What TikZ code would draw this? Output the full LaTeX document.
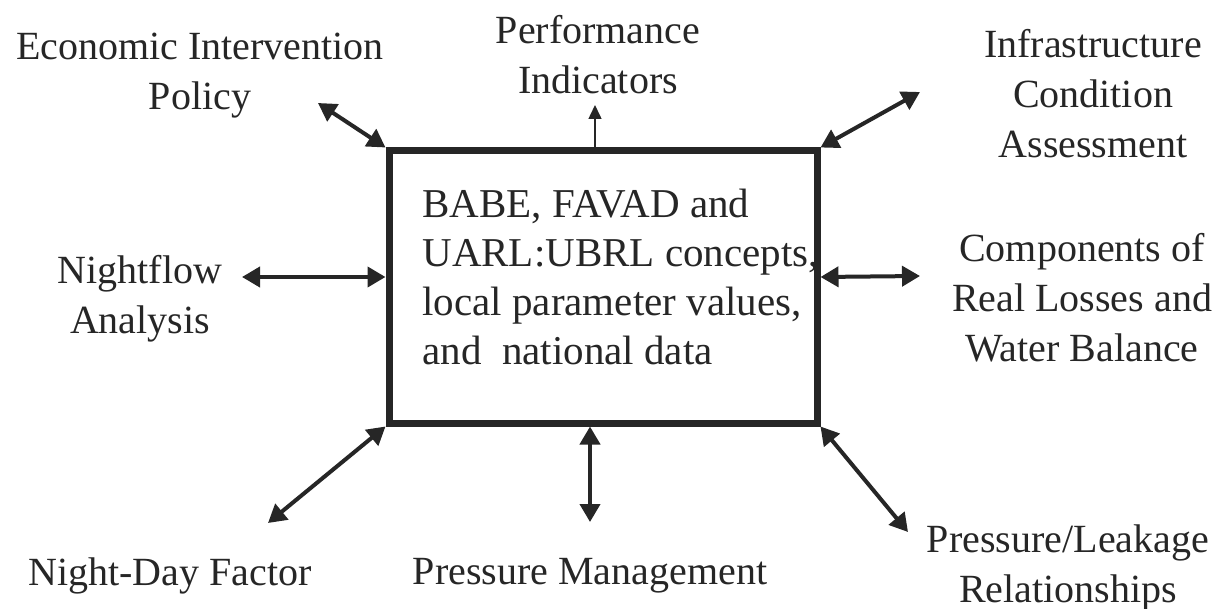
\documentclass[tikz,border=0pt]{standalone}
\usepackage{fontspec}
\setmainfont{Liberation Serif}
\usetikzlibrary{arrows.meta}
\definecolor{ink}{HTML}{262626}

\begin{document}
\begin{tikzpicture}[
  x=0.5pt, y=-0.5pt,
  core/.style={draw=ink, line width=3.5pt, minimum width=214pt, minimum height=136pt, inner sep=0pt},
  txt/.style={text=ink, font=\fontsize{20.5pt}{24.5pt}\selectfont, align=left, inner sep=0pt},
  lbl/.style={text=ink, font=\fontsize{20pt}{25pt}\selectfont, align=center, inner sep=0pt},
  arr/.style={{Triangle[length=9pt,width=10pt]}-{Triangle[length=9pt,width=10pt]}, line width=2pt, draw=ink},
  onearr/.style={-{Triangle[length=7pt,width=6.5pt]}, line width=0.75pt, draw=ink},
]
\useasboundingbox (0,0) rectangle (1225,609);
% central box and its text
\node[core] (core) at (603,287) {};
\node[txt, anchor=west] (concepts) at (422,277) {BABE, FAVAD and\\UARL:UBRL concepts,\\local parameter values,\\and\ \ national data};
% surrounding topics
\node[lbl] (econ) at (200,76) {Economic Intervention\\Policy};
\node[lbl] (perf) at (598,55) {Performance\\Indicators};
\node[lbl] (infra) at (1093,94) {Infrastructure\\Condition\\Assessment};
\node[lbl] (night) at (140,299) {Nightflow\\Analysis};
\node[lbl] (comp) at (1082,298) {Components of\\Real Losses and\\Water Balance};
\node[lbl] (ndf) at (170,576) {Night-Day Factor};
\node[lbl] (pman) at (590,576) {Pressure Management};
\node[lbl] (pleak) at (1068,568) {Pressure/Leakage\\Relationships};
% free arrow ends
\coordinate (econ-end) at (318,103);
\coordinate (perf-end) at (595,105);
\coordinate (infra-end) at (920,92);
\coordinate (night-end) at (242,277);
\coordinate (comp-end) at (920,276);
\coordinate (ndf-end) at (268,523);
\coordinate (pman-end) at (590,522);
\coordinate (pleak-end) at (908,532);
% connectors
\draw[arr] (core.north west) -- (econ-end);
\draw[onearr] ([xshift=-4pt]core.north) -- (perf-end);
\draw[arr] (core.north east) -- (infra-end);
\draw[arr] ([yshift=5pt]core.west) -- (night-end);
\draw[arr] ([yshift=5pt]core.east) -- (comp-end);
\draw[arr] (core.south west) -- (ndf-end);
\draw[arr] ([xshift=-6.5pt]core.south) -- (pman-end);
\draw[arr] (core.south east) -- (pleak-end);
\end{tikzpicture}
\end{document}
